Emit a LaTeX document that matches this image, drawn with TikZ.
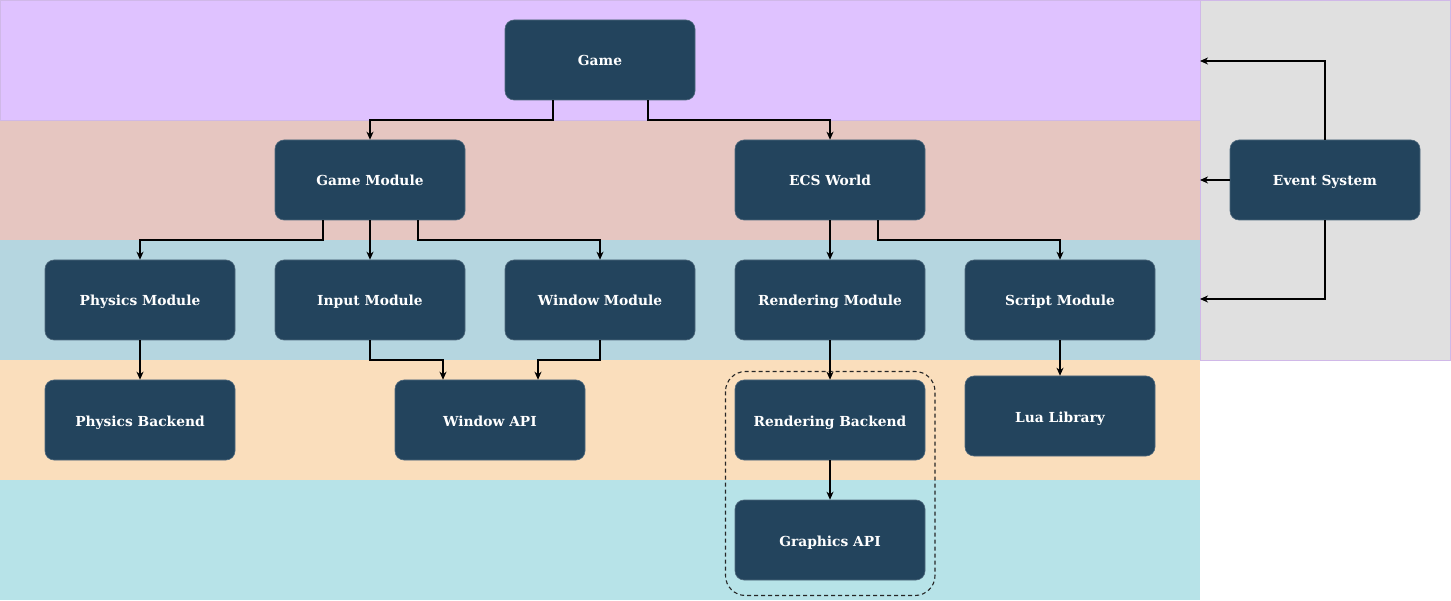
\documentclass[tikz,border=0pt]{standalone}
\usepackage{fontspec}
\setmainfont{DejaVu Serif}
\usetikzlibrary{arrows.meta}
\definecolor{bandpurple}{HTML}{DFC2FF}
\definecolor{bandpink}{HTML}{E6C6C1}
\definecolor{bandblue}{HTML}{B5D6E0}
\definecolor{bandpeach}{HTML}{FADEBC}
\definecolor{bandcyan}{HTML}{B7E3E8}
\definecolor{bandgray}{HTML}{E0E0E0}
\definecolor{bandline}{HTML}{D0B8E8}
\definecolor{boxfill}{HTML}{23445D}
\tikzset{
  x=1pt, y=-1pt,
  module/.style={draw=boxfill!80!white, fill=boxfill, rounded corners=9pt, minimum width=190pt, minimum height=80pt, text=white, font=\bfseries\fontsize{13.8}{16}\selectfont, inner sep=0pt, text height=12pt, text depth=0pt, line width=0.6pt},
  link/.style={draw=black, line width=1.1pt, -{Stealth[length=8pt,width=7pt,inset=2.5pt]}},
}
\begin{document}
\begin{tikzpicture}
\useasboundingbox (0,0) rectangle (1451,601);
% bands
\fill[bandcyan] (0,480) rectangle (1200,600);
\fill[bandpeach] (0,360) rectangle (1200,480);
\fill[bandblue] (0,240) rectangle (1200,360);
\fill[bandpink] (0,120) rectangle (1200,240);
\filldraw[fill=bandpurple, draw=bandline, line width=0.8pt] (0.5,0.5) rectangle (1200,120);
\filldraw[fill=bandgray, draw=bandline, line width=0.8pt] (1200,0.5) rectangle (1450.5,360);
% nodes
\node[module] (game) at (600,60) {Game};
\node[module] (gmod) at (370,180) {Game Module};
\node[module] (ecs) at (830,180) {ECS World};
\node[module] (event) at (1325,180) {Event System};
\node[module] (phys) at (140,300) {Physics Module};
\node[module] (input) at (370,300) {Input Module};
\node[module] (win) at (600,300) {Window Module};
\node[module] (rend) at (830,300) {Rendering Module};
\node[module] (script) at (1060,300) {Script Module};
\node[module] (physb) at (140,420) {Physics Backend};
\node[module] (winapi) at (490,420) {Window API};
\node[module] (rendb) at (830,420) {Rendering Backend};
\node[module] (lua) at (1060,416) {Lua Library};
\node[module] (gapi) at (830,540) {Graphics API};
% dashed group
\draw[black!85, line width=1.1pt, dash pattern=on 4pt off 3pt, rounded corners=20pt] (725.5,371.5) rectangle (935,595.5);
% band-edge coordinates for Event System
\coordinate (e1) at (1200,61);
\coordinate (e2) at (1200,180);
\coordinate (e3) at (1200,299);
% connectors
\draw[link] ([xshift=-47pt]game.south) |- (370,120) -- (gmod.north);
\draw[link] ([xshift=48pt]game.south) |- (830,120) -- (ecs.north);
\draw[link] ([xshift=-47pt]gmod.south) |- (140,240) -- (phys.north);
\draw[link] (gmod.south) -- (input.north);
\draw[link] ([xshift=48pt]gmod.south) |- (600,240) -- (win.north);
\draw[link] (ecs.south) -- (rend.north);
\draw[link] ([xshift=48pt]ecs.south) |- (1060,240) -- (script.north);
\draw[link] (phys.south) -- (physb.north);
\draw[link] (input.south) |- (443,360) -- ([xshift=-47pt]winapi.north);
\draw[link] (win.south) |- (538,360) -- ([xshift=48pt]winapi.north);
\draw[link] (rend.south) -- (rendb.north);
\draw[link] (script.south) -- (lua.north);
\draw[link] (rendb.south) -- (gapi.north);
\draw[link] (event.north) |- (e1);
\draw[link] (event.west) -- (e2);
\draw[link] (event.south) |- (e3);
\end{tikzpicture}
\end{document}
